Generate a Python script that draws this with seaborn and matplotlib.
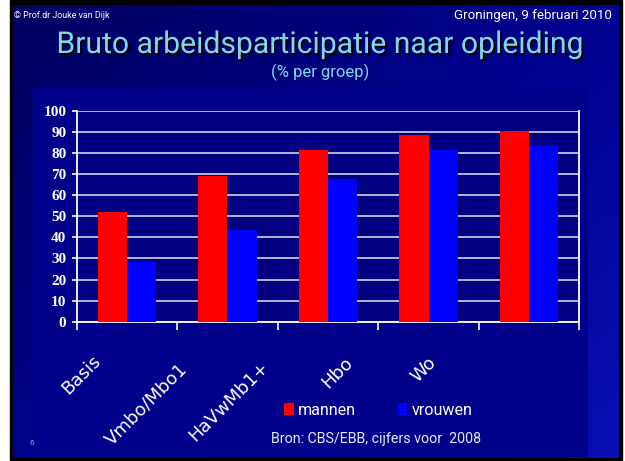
import pandas as pd
import seaborn as sns
import matplotlib.pyplot as plt
import matplotlib.patches as mpatches
import matplotlib.patheffects as pe
from matplotlib.colors import LinearSegmentedColormap
import numpy as np

# Data
categories = ["Basis", "Vmbo/Mbo1", "HaVwMb1+", "Hbo", "Wo"]
mannen = [52, 69, 81.5, 88.5, 90.5]
vrouwen = [29, 43.5, 67.5, 81.5, 83.5]
series = ["mannen", "vrouwen"]
yticks = list(range(0, 101, 10))

df = pd.DataFrame({
    "opleiding": categories * 2,
    "pct": mannen + vrouwen,
    "geslacht": [series[0]] * len(categories) + [series[1]] * len(categories),
})

W, H = 625, 461
fig = plt.figure(figsize=(W / 100, H / 100), dpi=100, facecolor="white")

# slide background: black frame + blue diagonal gradient
bg = fig.add_axes([0, 0, 1, 1], zorder=-10)
bg.set_xlim(0, W)
bg.set_ylim(H, 0)
bg.axis("off")
bg.add_patch(mpatches.Rectangle((10, 0), 612, H, color="black"))
yy, xx = np.mgrid[0:1:200j, 0:1:300j]
grad = 0.55 * xx + 0.45 * yy
cmap = LinearSegmentedColormap.from_list("slide", ["#000060", "#00008c", "#0a10b4"])
bg.imshow(grad, cmap=cmap, extent=(13, 619, 458, 6), aspect="auto", zorder=1)
# chart area box
bg.add_patch(mpatches.Rectangle((33, 88), 554, 368, color="#00008a", zorder=2))

narrow = ["Liberation Sans Narrow", "Roboto", "DejaVu Sans"]

# header texts
bg.text(14, 16, "\u00a9 Prof.dr Jouke van Dijk", color="white", fontsize=6.4,
        family=narrow, va="center", ha="left", zorder=3)
bg.text(612, 16, "Groningen, 9 februari 2010", color="white", fontsize=9.6,
        family=narrow, va="center", ha="right", zorder=3)
bg.text(320, 45, "Bruto arbeidsparticipatie naar opleiding", color="#80d8ea",
        fontsize=21.7, family=narrow, ha="center", va="center", zorder=3,
        path_effects=[pe.SimplePatchShadow(offset=(1.5, -1.5), shadow_rgbFace="black", alpha=0.9),
                      pe.Normal()])
bg.text(320, 72.5, "(% per groep)", color="#80d8ea", fontsize=12,
        family=narrow, ha="center", va="center", zorder=3)
bg.text(32, 443, "6", color="#b0b0e0", fontsize=5, ha="center", va="center", zorder=3)
bg.text(481, 439, "Bron: CBS/EBB, cijfers voor  2008", color="#e8e8ff", fontsize=10.3,
        family=narrow, ha="right", va="center", zorder=3)

# chart
ax = fig.add_axes([76.7 / W, 1 - 321.7 / H, (579.3 - 76.7) / W, (321.7 - 110.7) / H])
ax.set_facecolor("#000080")
sns.barplot(data=df, x="opleiding", y="pct", hue="geslacht",
            palette={"mannen": "#ff0000", "vrouwen": "#0000ff"},
            width=0.58, gap=0, saturation=1, linewidth=0, ax=ax, zorder=3)

ax.set_xlim(-0.5, len(categories) - 0.5)
ax.set_ylim(0, 100)
ax.set_yticks(yticks)
ax.set_yticklabels([str(t) for t in yticks], fontfamily="Liberation Serif",
                   fontweight="bold", fontsize=11, color="white")
ax.yaxis.grid(True, color="#c4c4e0", linewidth=1.3, zorder=1)
ax.set_axisbelow(True)
ax.tick_params(axis="y", length=3.5, width=1.2, color="white", pad=4)
ax.set_xticks(np.arange(-0.5, len(categories)), labels=[""] * (len(categories) + 1))
ax.tick_params(axis="x", length=5.5, width=1.2, color="white")
ax.set_xlabel("")
ax.set_ylabel("")
for s in ["left", "bottom", "right"]:
    ax.spines[s].set_color("white")
    ax.spines[s].set_linewidth(1.3)
ax.spines["top"].set_visible(False)

# rotated category labels (Excel places them unevenly)
label_x = [-0.22, 0.635, 1.45, 2.28, 3.11]
label_y = [-0.14, -0.18, -0.17, -0.15, -0.15]
for lx, ly, name in zip(label_x, label_y, categories):
    ax.text(lx, ly, name, rotation=45, ha="right", va="top", color="white",
            fontsize=13, transform=ax.get_xaxis_transform(), clip_on=False)

handles, labels = ax.get_legend_handles_labels()
ax.legend(handles, labels, loc="center left", bbox_to_anchor=(284 / W, 1 - 410 / H),
          bbox_transform=fig.transFigure, ncol=2, frameon=False,
          prop={"family": narrow, "size": 11.6},
          labelcolor="white", handlelength=0.6, handleheight=0.8, handletextpad=0.25,
          columnspacing=2.6, borderpad=0, borderaxespad=0)

fig.savefig("out.png", dpi=100, facecolor=fig.get_facecolor())
